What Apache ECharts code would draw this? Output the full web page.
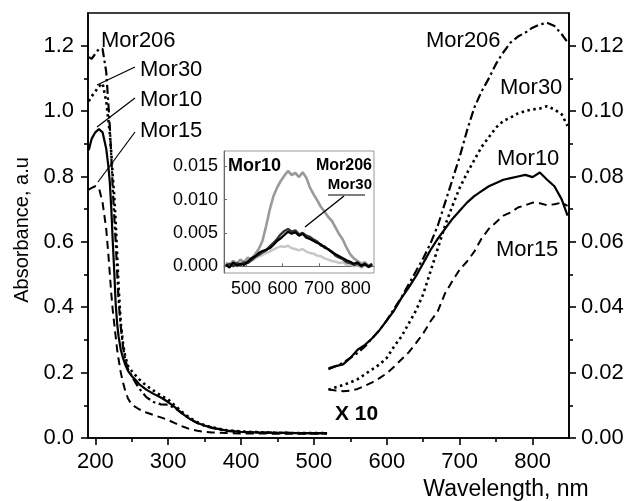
<!DOCTYPE html>
<html>
<head>
<meta charset="utf-8">
<script src="https://cdn.jsdelivr.net/npm/echarts@6/dist/echarts.min.js"></script>
<style>html,body{margin:0;padding:0;background:#fff}#c{width:630px;height:501px}</style>
</head>
<body>
<div id="c"></div>
<script>
// ---------- DATA ----------
const uvWavelength = [191,195,200,205,210,215,218,220,222,224,226,228,230,232,235,238,241,245,250,255,260,270,280,290,300,310,320,330,340,350,360,370,380,400,420,450,480,500,518];
const mor10UV  = [0.88,0.915,0.935,0.945,0.935,0.885,0.83,0.78,0.70,0.60,0.51,0.41,0.35,0.31,0.27,0.245,0.225,0.205,0.19,0.178,0.165,0.148,0.135,0.124,0.11,0.093,0.074,0.058,0.046,0.038,0.032,0.027,0.023,0.019,0.017,0.016,0.015,0.015,0.015];
const mor30UV  = [1.03,1.045,1.06,1.075,1.085,1.03,0.97,0.93,0.87,0.80,0.74,0.66,0.56,0.46,0.35,0.29,0.25,0.22,0.205,0.192,0.18,0.16,0.145,0.13,0.118,0.098,0.078,0.061,0.048,0.039,0.033,0.028,0.024,0.02,0.018,0.016,0.015,0.015,0.015];
const mor206UV = [1.165,1.16,1.175,1.19,1.19,1.12,1.02,0.95,0.86,0.76,0.68,0.6,0.51,0.42,0.34,0.28,0.24,0.21,0.19,0.17,0.152,0.125,0.11,0.103,0.102,0.09,0.074,0.058,0.046,0.037,0.031,0.026,0.022,0.018,0.017,0.016,0.015,0.015,0.015];
const mor15UV  = [0.76,0.765,0.77,0.765,0.72,0.64,0.56,0.5,0.44,0.39,0.35,0.31,0.27,0.24,0.2,0.17,0.145,0.12,0.103,0.095,0.088,0.078,0.07,0.063,0.055,0.045,0.035,0.027,0.022,0.019,0.017,0.016,0.015,0.014,0.014,0.013,0.013,0.013,0.013];

const visWavelength = [520,530,540,550,560,570,580,590,600,610,620,630,640,650,660,670,680,690,700,710,720,730,740,750,760,770,780,790,800,810,820,830,840,848];
const mor10Vis  = [0.0213,0.022,0.0225,0.0245,0.027,0.0285,0.0305,0.033,0.036,0.039,0.0428,0.046,0.0495,0.0535,0.0575,0.061,0.064,0.067,0.0695,0.072,0.074,0.0755,0.077,0.078,0.079,0.0795,0.080,0.0805,0.0798,0.0812,0.079,0.077,0.073,0.068];
const mor30Vis  = [0.0148,0.0155,0.0162,0.017,0.018,0.0195,0.021,0.0225,0.0245,0.028,0.031,0.035,0.039,0.044,0.051,0.058,0.065,0.071,0.0765,0.081,0.085,0.089,0.092,0.095,0.097,0.098,0.0993,0.1,0.1005,0.1008,0.1015,0.1005,0.099,0.0955];
const mor206Vis = [0.021,0.022,0.023,0.0245,0.026,0.028,0.0305,0.033,0.036,0.0395,0.043,0.047,0.051,0.055,0.0595,0.065,0.072,0.079,0.086,0.094,0.101,0.106,0.11,0.1145,0.118,0.121,0.1228,0.124,0.1255,0.1265,0.127,0.126,0.1235,0.121];
const mor15Vis  = [0.0148,0.0145,0.0143,0.0145,0.015,0.016,0.017,0.0183,0.0198,0.0218,0.024,0.0262,0.029,0.032,0.0357,0.0388,0.0443,0.048,0.0515,0.054,0.057,0.061,0.064,0.066,0.068,0.069,0.0705,0.0712,0.072,0.0718,0.0712,0.0715,0.072,0.071];

const insetWavelength = [445,455,465,475,485,495,505,515,525,535,545,555,565,575,585,595,605,615,625,635,645,655,665,675,685,695,705,715,725,735,745,755,765,775,785,795,805,815,825,835,845];
const insetMor206 = [0.0005,0.0002,0.0008,0.0004,0.001,0.0006,0.0013,0.0011,0.0018,0.0026,0.0038,0.006,0.0085,0.0105,0.0118,0.0128,0.0136,0.0143,0.0137,0.014,0.0134,0.0141,0.0133,0.0118,0.0108,0.0099,0.0089,0.0082,0.0074,0.0068,0.0058,0.0048,0.004,0.0028,0.0018,0.0012,0.0008,0.0004,0.0006,0.0001,0.0003];
const insetMor10  = [0.0003,-0.0002,0.0006,0.0001,0.0004,0.0002,0.0007,0.0012,0.0015,0.002,0.0023,0.0025,0.0027,0.0032,0.0038,0.0042,0.0047,0.0052,0.0049,0.0051,0.0046,0.0049,0.0043,0.0041,0.0038,0.0035,0.0033,0.0028,0.0026,0.0021,0.0018,0.0015,0.0012,0.0009,0.0007,0.0004,0.0006,0.0001,0.0004,-0.0001,0.0002];
const insetMor30  = [0.0,0.0004,0.0,0.0005,0.0002,0.0006,0.0005,0.0009,0.0014,0.0017,0.0021,0.0024,0.003,0.0035,0.0041,0.0048,0.0053,0.0056,0.0052,0.0054,0.0048,0.005,0.0046,0.0044,0.004,0.0037,0.0031,0.003,0.0025,0.0022,0.0016,0.0013,0.0011,0.0006,0.0005,0.0002,0.0004,0.0,0.0003,0.0,0.0004];
const insetMor15  = [0.0004,0.0001,0.0003,0.0,0.0005,0.0003,0.0006,0.0009,0.0012,0.0015,0.0017,0.002,0.0022,0.0025,0.0028,0.003,0.0029,0.0031,0.0027,0.0026,0.0024,0.0026,0.0022,0.002,0.0019,0.0016,0.0015,0.0012,0.001,0.0008,0.0007,0.0005,0.0006,0.0002,0.0003,0.0,0.0002,-0.0002,0.0001,-0.0001,0.0];

const xMajorTicks = [200,300,400,500,600,700,800];
const xMinorTicks = [250,350,450,550,650,750];
const leftMajorTicks = [0,0.2,0.4,0.6,0.8,1.0,1.2];
const leftMinorTicks = [0.1,0.3,0.5,0.7,0.9,1.1];
const rightMajorTicks = [0,0.02,0.04,0.06,0.08,0.10,0.12];
const rightMinorTicks = [0.01,0.03,0.05,0.07,0.09,0.11];
const insetXTicks = [500,600,700,800];
const insetYTicks = [0,0.005,0.010,0.015];

// ---------- CHART ----------
const FONT = "'Liberation Sans', Arial, Helvetica, sans-serif";
const pair = (xs, ys) => xs.map((x, i) => [x, ys[i]]);
const chart = echarts.init(document.getElementById('c'), null, {renderer: 'canvas'});

const AX = {color: '#000', width: 1.6};
function line(name, data, xi, yi, type, width, color) {
  return {
    name, type: 'line', data, xAxisIndex: xi, yAxisIndex: yi,
    symbol: 'none', silent: true, animation: false,
    lineStyle: {color: color || '#000', width: width || 2, type: type || 'solid', cap: 'butt'}
  };
}
const dotted = [2.5, 3.5];
const dashed = [8, 5];
const dashdot = [9, 3.5, 2.5, 3.5];

const option = {
  animation: false,
  backgroundColor: '#fff',
  grid: [
    {left: 88, top: 13, right: 61, bottom: 63, show: true, borderColor: '#000', borderWidth: 1.6, backgroundColor: 'transparent'},
    {left: 224, top: 151, width: 150, height: 122, show: true, borderColor: '#999', borderWidth: 1, backgroundColor: '#fff'}
  ],
  xAxis: [
    {type: 'value', gridIndex: 0, min: 190, max: 850, position: 'bottom',
     axisLine: {show: true, lineStyle: AX},
     axisTick: {show: true, inside: false, length: 7, lineStyle: AX, customValues: xMajorTicks},
     axisLabel: {show: true, customValues: xMajorTicks, fontSize: 22, fontFamily: FONT, color: '#000', margin: 13},
     splitLine: {show: false}},
    {type: 'value', gridIndex: 0, min: 190, max: 850, position: 'bottom',
     axisLine: {show: false},
     axisTick: {show: true, inside: false, length: 4, lineStyle: AX, customValues: xMinorTicks},
     axisLabel: {show: false}, splitLine: {show: false}},
    {type: 'value', gridIndex: 1, min: 440, max: 850, position: 'bottom',
     axisLine: {show: true, lineStyle: {color: '#666', width: 1}},
     axisTick: {show: true, inside: true, length: 3, lineStyle: {color: '#666', width: 1}, customValues: insetXTicks},
     axisLabel: {show: true, customValues: insetXTicks, fontSize: 18, fontFamily: FONT, color: '#000', margin: 7},
     splitLine: {show: false}}
  ],
  yAxis: [
    {type: 'value', gridIndex: 0, min: 0, max: 1.3, position: 'left',
     axisLine: {show: true, lineStyle: AX},
     axisTick: {show: true, inside: false, length: 7, lineStyle: AX, customValues: leftMajorTicks},
     axisLabel: {show: true, customValues: leftMajorTicks, formatter: v => v.toFixed(1), fontSize: 22, fontFamily: FONT, color: '#000', margin: 14},
     splitLine: {show: false}},
    {type: 'value', gridIndex: 0, min: 0, max: 0.13, position: 'right',
     axisLine: {show: true, lineStyle: AX},
     axisTick: {show: true, inside: false, length: 7, lineStyle: AX, customValues: rightMajorTicks},
     axisLabel: {show: true, customValues: rightMajorTicks, formatter: v => v.toFixed(2), fontSize: 22, fontFamily: FONT, color: '#000', margin: 12},
     splitLine: {show: false}},
    {type: 'value', gridIndex: 0, min: 0, max: 1.3, position: 'left',
     axisLine: {show: false},
     axisTick: {show: true, inside: false, length: 4, lineStyle: AX, customValues: leftMinorTicks},
     axisLabel: {show: false}, splitLine: {show: false}},
    {type: 'value', gridIndex: 0, min: 0, max: 0.13, position: 'right',
     axisLine: {show: false},
     axisTick: {show: true, inside: false, length: 4, lineStyle: AX, customValues: rightMinorTicks},
     axisLabel: {show: false}, splitLine: {show: false}},
    {type: 'value', gridIndex: 1, min: -0.001, max: 0.0173, position: 'left',
     axisLine: {show: true, lineStyle: {color: '#666', width: 1}},
     axisTick: {show: true, inside: true, length: 3, lineStyle: {color: '#666', width: 1}, customValues: insetYTicks},
     axisLabel: {show: true, customValues: insetYTicks, formatter: v => v.toFixed(3), fontSize: 18, fontFamily: FONT, color: '#000', margin: 6},
     splitLine: {show: false}}
  ],
  series: [
    line('Mor15', pair(uvWavelength, mor15UV), 0, 0, dashed, 2),
    line('Mor10', pair(uvWavelength, mor10UV), 0, 0, 'solid', 2.2),
    line('Mor30', pair(uvWavelength, mor30UV), 0, 0, dotted, 2.6),
    line('Mor206', pair(uvWavelength, mor206UV), 0, 0, dashdot, 2.2),
    line('Mor15', pair(visWavelength, mor15Vis), 0, 1, dashed, 2),
    line('Mor10', pair(visWavelength, mor10Vis), 0, 1, 'solid', 2.2),
    line('Mor30', pair(visWavelength, mor30Vis), 0, 1, dotted, 2.6),
    line('Mor206', pair(visWavelength, mor206Vis), 0, 1, dashdot, 2.2),
    line('Mor15 inset', pair(insetWavelength, insetMor15), 2, 4, 'solid', 2.5, '#c8c8c8'),
    line('Mor206 inset', pair(insetWavelength, insetMor206), 2, 4, 'solid', 2.6, '#9a9a9a'),
    line('Mor30 inset', pair(insetWavelength, insetMor30), 2, 4, 'solid', 2.4, '#333'),
    line('Mor10 inset', pair(insetWavelength, insetMor10), 2, 4, 'solid', 2.2, '#000')
  ],
  graphic: [
    // axis titles
    {type: 'text', x: 22, y: 230, rotation: Math.PI / 2, style: {text: 'Absorbance, a.u', fontSize: 20, fontFamily: FONT, fill: '#000', align: 'center', verticalAlign: 'middle'}},
    {type: 'text', x: 506, y: 490, style: {text: 'Wavelength, nm', fontSize: 23, fontFamily: FONT, fill: '#000', align: 'center', verticalAlign: 'middle'}},
    // UV labels
    {type: 'text', x: 101, y: 41, style: {text: 'Mor206', fontSize: 22, fontFamily: FONT, fill: '#000', align: 'left', verticalAlign: 'middle'}},
    {type: 'text', x: 140, y: 70, style: {text: 'Mor30', fontSize: 22, fontFamily: FONT, fill: '#000', align: 'left', verticalAlign: 'middle'}},
    {type: 'text', x: 140, y: 100, style: {text: 'Mor10', fontSize: 22, fontFamily: FONT, fill: '#000', align: 'left', verticalAlign: 'middle'}},
    {type: 'text', x: 140, y: 131, style: {text: 'Mor15', fontSize: 22, fontFamily: FONT, fill: '#000', align: 'left', verticalAlign: 'middle'}},
    {type: 'line', shape: {x1: 135, y1: 67, x2: 97, y2: 85}, style: {stroke: '#000', lineWidth: 1.2}},
    {type: 'line', shape: {x1: 135, y1: 98, x2: 97, y2: 127}, style: {stroke: '#000', lineWidth: 1.2}},
    {type: 'line', shape: {x1: 135, y1: 132, x2: 98, y2: 182}, style: {stroke: '#000', lineWidth: 1.2}},
    // Vis labels
    {type: 'text', x: 426, y: 41, style: {text: 'Mor206', fontSize: 22, fontFamily: FONT, fill: '#000', align: 'left', verticalAlign: 'middle'}},
    {type: 'text', x: 500, y: 88, style: {text: 'Mor30', fontSize: 22, fontFamily: FONT, fill: '#000', align: 'left', verticalAlign: 'middle'}},
    {type: 'text', x: 497, y: 159, style: {text: 'Mor10', fontSize: 22, fontFamily: FONT, fill: '#000', align: 'left', verticalAlign: 'middle'}},
    {type: 'text', x: 496, y: 250, style: {text: 'Mor15', fontSize: 22, fontFamily: FONT, fill: '#000', align: 'left', verticalAlign: 'middle'}},
    {type: 'text', x: 335, y: 414, style: {text: 'X 10', fontSize: 21, fontWeight: 'bold', fontFamily: FONT, fill: '#000', align: 'left', verticalAlign: 'middle'}},
    // inset labels
    {type: 'text', x: 228, y: 166, z: 10, style: {text: 'Mor10', fontSize: 18, fontWeight: 'bold', fontFamily: FONT, fill: '#000', align: 'left', verticalAlign: 'middle'}},
    {type: 'text', x: 372, y: 166, z: 10, style: {text: 'Mor206', fontSize: 16, fontWeight: 'bold', fontFamily: FONT, fill: '#000', align: 'right', verticalAlign: 'middle'}},
    {type: 'text', x: 372, y: 185, z: 10, style: {text: 'Mor30', fontSize: 15, fontWeight: 'bold', fontFamily: FONT, fill: '#000', align: 'right', verticalAlign: 'middle'}},
    {type: 'line', z: 10, shape: {x1: 328, y1: 195, x2: 365, y2: 195}, style: {stroke: '#000', lineWidth: 1.2}},
    {type: 'line', z: 10, shape: {x1: 344, y1: 196, x2: 305, y2: 227}, style: {stroke: '#000', lineWidth: 1.4}}
  ]
};
chart.setOption(option);
</script>
</body>
</html>
